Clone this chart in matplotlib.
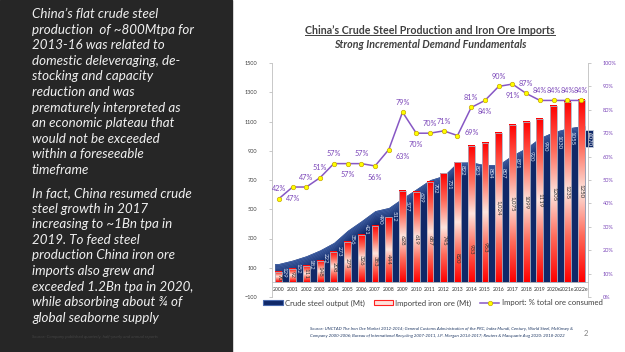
import matplotlib
matplotlib.use("Agg")
import matplotlib.pyplot as plt
import numpy as np
from matplotlib.colors import LinearSegmentedColormap
from matplotlib.patches import Rectangle
from matplotlib.lines import Line2D

plt.rcParams['font.family'] = ['Lato', 'DejaVu Sans']

# data
years = ['2000', '2001', '2002', '2003', '2004', '2005', '2006', '2007', '2008',
         '2009', '2010', '2011', '2012', '2013', '2014', '2015', '2016', '2017',
         '2018', '2019', '2020e', '2021e', '2022e']
crude_steel = [129, 152, 182, 222, 273, 356, 421, 490, 512, 577, 639, 702, 731,
               822, 823, 804, 807, 871, 920, 990, 1030, 1055, 1070]
iron_ore_imports = [70, 92, 111, 148, 208, 275, 326, 383, 444, 628, 619, 687, 745,
                    820, 933, 953, 1024, 1075, 1099, 1119, 1205, 1235, 1250]
import_share = [42, 47, 47, 51, 57, 57, 57, 56, 63, 79, 70, 70, 71, 69, 81, 84,
                90, 91, 87, 84, 84, 84, 84]

# where each % label sits relative to its marker (style only)
share_pos = ['a', 'b', 'a', 'a', 'a', 'b', 'a', 'b', 'br', 'a', 'b', 'a', 'a', 'r',
             'a', 'b', 'a', 'b', 'a', 'a', 'a', 'a', 'a']
ore_label_frac = [0.5, 0.6, 0.55, 0.5, 0.5, 0.48, 0.47, 0.38, 0.36, 0.46, 0.47, 0.42,
                  0.39, 0.2, 0.24, 0.25, 0.5, 0.5, 0.5, 0.5, 0.5, 0.5, 0.5]

NAVY = '#0f2868'
NAVY_LIGHT = '#4a6aae'
PURPLE = '#8757c4'
PURPLE_TXT = '#7a45b8'

W, H = 625, 352
fig = plt.figure(figsize=(W / 100, H / 100), dpi=100)
fig.patch.set_facecolor('white')

# dark text panel on the left
fig.add_artist(Rectangle((0, 0), 232 / W, 1, transform=fig.transFigure,
                         color='#262626', zorder=0))

para1 = ("China’s flat crude steel\n"
         "production  of ~800Mtpa for\n"
         "2013-16 was related to\n"
         "domestic deleveraging, de-\n"
         "stocking and capacity\n"
         "reduction and was\n"
         "prematurely interpreted as\n"
         "an economic plateau that\n"
         "would not be exceeded\n"
         "within a foreseeable\n"
         "timeframe")
para2 = ("In fact, China resumed crude\n"
         "steel growth in 2017\n"
         "increasing to ~1Bn tpa in\n"
         "2019. To feed steel\n"
         "production China iron ore\n"
         "imports also grew and\n"
         "exceeded 1.2Bn tpa in 2020,\n"
         "while absorbing about ¾ of\n"
         "global seaborne supply")
for txt, ytop in [(para1, 8), (para2, 187)]:
    fig.text(32 / W, 1 - ytop / H, txt, ha='left', va='top', fontsize=9.6,
             style='italic', color='#f0f0f0', linespacing=1.36)
fig.text(32 / W, 1 - 337 / H,
         'Source: Company published quarterly, half-yearly and annual reports',
         fontsize=3.2, style='italic', color='#444444', va='center')

# titles
t1 = fig.text(430 / W, 1 - 30 / H, 'China’s Crude Steel Production and Iron Ore Imports',
              ha='center', va='center', fontsize=7.7, weight='bold', color='#404040')
fig.text(430 / W, 1 - 44 / H, 'Strong Incremental Demand Fundamentals',
         ha='center', va='center', fontsize=7.7, weight='bold', style='italic',
         color='#404040')

# main axes
ax = fig.add_axes([272 / W, 1 - 297 / H, (588 - 272) / W, (297 - 63) / H])
ax.set_facecolor('none')
x = np.arange(len(years))

# crude steel area with lighter band along its top edge
pad = 0.3
xa = np.concatenate([[x[0] - pad], x, [x[-1] + pad]])
ya = np.array([crude_steel[0]] + crude_steel + [crude_steel[-1]], dtype=float)
ax.fill_between(xa, 0, ya, color=NAVY, lw=0, zorder=1)
nb = 10
for k in range(nb):
    ax.fill_between(xa, ya - 9 * (k + 1), ya - 9 * k, color=NAVY_LIGHT,
                    alpha=0.85 * (1 - k / nb), lw=0, zorder=1.5)

# imported iron ore bars with red-white-red gradient
red_cmap = LinearSegmentedColormap.from_list(
    'rw', ['#ff0000', '#ff6a5a', '#fde6df', '#ff6a5a', '#ff0000'])
grad = np.linspace(0, 1, 128).reshape(-1, 1)
bw = 0.5
for xi, v in zip(x, iron_ore_imports):
    ax.imshow(grad, extent=(xi - bw / 2, xi + bw / 2, 0, v), aspect='auto',
              cmap=red_cmap, origin='lower', zorder=3, interpolation='bilinear')
    ax.add_patch(Rectangle((xi - bw / 2, 0), bw, v, fill=False, ec='#b0b0c0',
                           lw=0.6, zorder=3.5))

# data labels
for i, (xi, v) in enumerate(zip(x, crude_steel)):
    if i == len(x) - 1:
        ax.text(xi + 0.58, v - 40, f'{v}', rotation=-90, ha='center', va='top',
                fontsize=4.4, color='white', zorder=6,
                bbox=dict(boxstyle='square,pad=0.25', fc=NAVY, ec='#c8d0e0', lw=0.6))
    else:
        ax.text(xi + 0.36, v - 22, f'{v}', rotation=-90, ha='center', va='top',
                fontsize=4.4, color='#dde4f4', zorder=4)
for xi, v, f in zip(x, iron_ore_imports, ore_label_frac):
    lab = f'{v:,}' if v in (1024, 1075) else f'{v}'
    ax.text(xi, v * f, lab, rotation=-90, ha='center', va='center',
            fontsize=4.4, color='#333333', zorder=4)

ax.set_xlim(-0.5, len(years) - 0.5)
ax.set_ylim(-100, 1500)
ax.set_yticks(np.arange(-100, 1501, 200))
ax.set_xticks(x)
ax.set_xticklabels(years)
ax.tick_params(axis='x', length=0, labelsize=3.7, labelcolor='#333333', pad=3)
ax.tick_params(axis='y', length=2.5, width=0.6, color='#bfbfbf', labelsize=4.0,
               labelcolor='#404040', pad=8)
for s in ['top', 'right']:
    ax.spines[s].set_visible(False)
ax.spines['left'].set_color('#bfbfbf')
ax.spines['left'].set_linewidth(0.6)
ax.spines['bottom'].set_position(('data', 0))
ax.spines['bottom'].set_color('#bfbfbf')
ax.spines['bottom'].set_linewidth(0.6)

# import share line on right axis
ax2 = ax.twinx()
ax2.set_ylim(0, 100)
ax2.set_yticks(np.arange(0, 101, 10))
ax2.set_yticklabels([f'{t}%' for t in range(0, 101, 10)])
ax2.tick_params(axis='y', length=2.5, width=0.6, color='#bfbfbf', labelsize=4.0,
                labelcolor=PURPLE_TXT, pad=8)
for s in ['top', 'left', 'bottom']:
    ax2.spines[s].set_visible(False)
ax2.spines['right'].set_color('#bfbfbf')
ax2.spines['right'].set_linewidth(0.6)
ax2.plot(x, import_share, color=PURPLE, lw=1.1, marker='o', ms=3.2,
         mfc='#ffff00', mec='#c8a800', mew=0.5, zorder=5)
offsets = {'a': (0, 7), 'b': (0, -8), 'r': (10, 2), 'br': (10, -5)}
for xi, v, p in zip(x, import_share, share_pos):
    dx, dy = offsets[p]
    ax2.annotate(f'{v}%', (xi, v), xytext=(dx, dy), textcoords='offset points',
                 ha='center', va='center', fontsize=5.2, color=PURPLE_TXT, zorder=6)

# legend
handles = [Rectangle((0, 0), 1, 1, fc=NAVY, ec=NAVY_LIGHT, lw=0.8),
           Rectangle((0, 0), 1, 1, fc='#fde0da', ec='#ff2020', lw=0.8),
           Line2D([], [], color=PURPLE, lw=1.1, marker='o', ms=3.2,
                  mfc='#ffff00', mec='#c8a800', mew=0.5)]
labels = ['Crude steel output (Mt)', 'Imported iron ore (Mt)',
          'Import: % total ore consumed']
fig.legend(handles, labels, loc='center', bbox_to_anchor=(433 / W, 1 - 303 / H),
           ncol=3, frameon=False, fontsize=5.6, handlelength=2.5, handleheight=0.6,
           columnspacing=1.1, handletextpad=0.3, labelcolor='#404040')

# footnotes
fig.text(310 / W, 1 - 329 / H,
         'Source: UNCTAD The Iron Ore Market 2012-2014; General Customs Administration of the PRC, '
         'Index Mundi, Century, World Steel, McKinsey &',
         fontsize=3.2, style='italic', color='#1f3864', va='center')
fig.text(310 / W, 1 - 336 / H,
         'Company 2000-2006; Bureau of International Recycling 2007-2011, J.P. Morgan 2014-2017; '
         'Reuters & Macquarie Aug 2020: 2018-2022',
         fontsize=3.2, style='italic', color='#1f3864', va='center')
fig.text(584 / W, 1 - 333 / H, '2', fontsize=5.5, color='#808080', va='center')

# underline the main title
fig.canvas.draw()
bb = t1.get_window_extent().transformed(fig.transFigure.inverted())
fig.add_artist(Line2D([bb.x0, bb.x1], [bb.y0 + 0.002, bb.y0 + 0.002],
                      transform=fig.transFigure, color='#404040', lw=0.7))

fig.savefig('out.png', dpi=100)
